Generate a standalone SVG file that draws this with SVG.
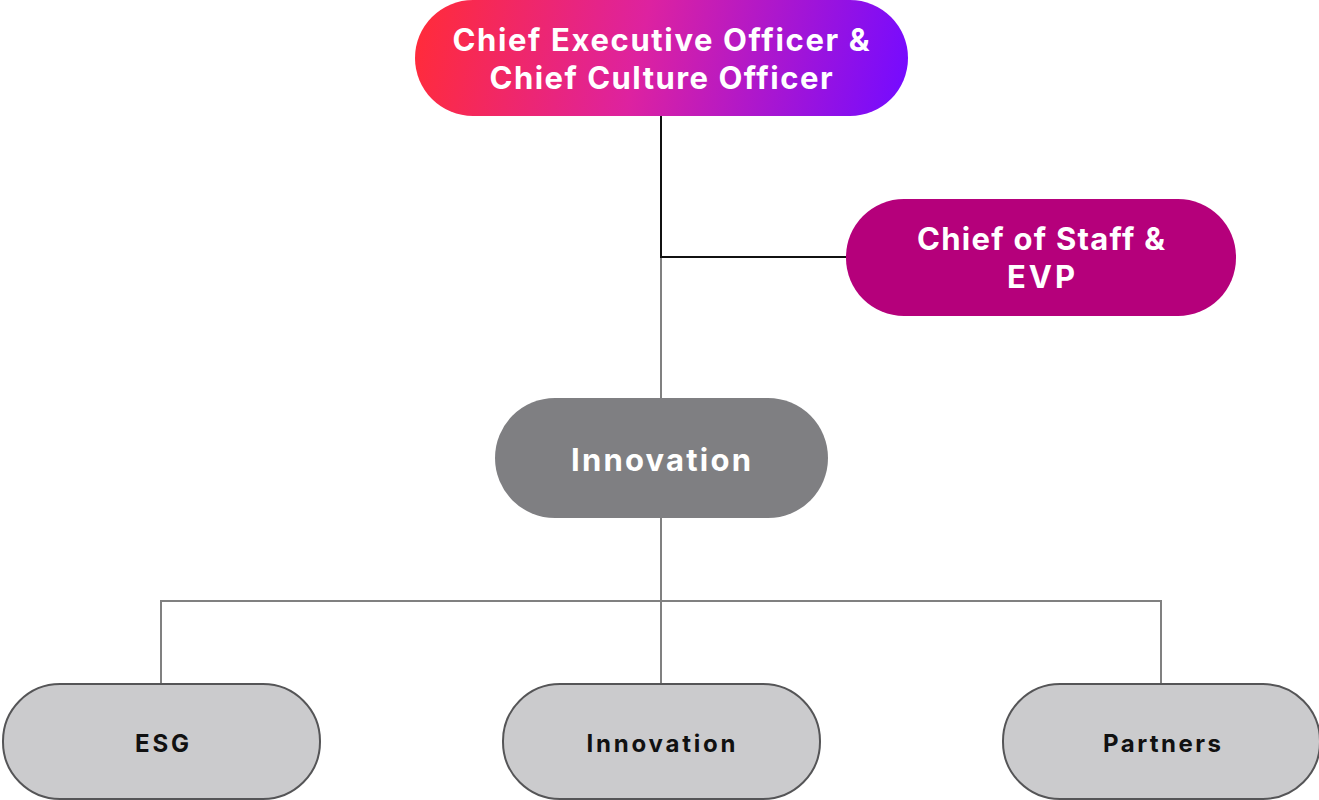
<svg xmlns="http://www.w3.org/2000/svg" width="1319" height="800" viewBox="0 0 1319 800">
<style>
text{font-family:Inter,"Open Sans","Liberation Sans",sans-serif;font-weight:700;text-anchor:middle;dominant-baseline:central}
.w{fill:#ffffff;font-size:31px}
.b{fill:#111111;font-size:24px}
.leaf{fill:#cbcbcd;stroke:#555557;stroke-width:2}
.gl{stroke:#808080;stroke-width:2;fill:none}
.bl{stroke:#111111;stroke-width:2;fill:none}
</style>
<defs>
<linearGradient id="g" x1="425" y1="10" x2="900" y2="110" gradientUnits="userSpaceOnUse">
<stop offset="0" stop-color="#ff2b3c"/>
<stop offset="0.45" stop-color="#dd22a0"/>
<stop offset="1" stop-color="#760bff"/>
</linearGradient>
</defs>
<rect width="1319" height="800" fill="#ffffff"/>
<g id="connectors">
<path class="gl" d="M661 257V398"/>
<path class="bl" d="M661 116V257H846"/>
<path class="gl" d="M661 518V684M161 684V601H1161V684"/>
</g>
<g id="ceo">
<rect x="415" y="0" width="493" height="116" rx="58" fill="url(#g)"/>
<text class="w" x="661" y="39" textLength="417" lengthAdjust="spacing">Chief Executive Officer &amp;</text>
<text class="w" x="661" y="77" textLength="343" lengthAdjust="spacing">Chief Culture Officer</text>
</g>
<g id="cos">
<rect x="846" y="199" width="390" height="117" rx="58" fill="#b5007b"/>
<text class="w" x="1041" y="238" textLength="248" lengthAdjust="spacing">Chief of Staff &amp;</text>
<text class="w" x="1041" y="276" textLength="68" lengthAdjust="spacing">EVP</text>
</g>
<g id="innovation-main">
<rect x="495" y="398" width="333" height="120" rx="60" fill="#7f7f82"/>
<text class="w" x="661" y="459" textLength="180" lengthAdjust="spacing">Innovation</text>
</g>
<g id="esg">
<rect class="leaf" x="3" y="684" width="317" height="115" rx="57"/>
<text class="b" x="162" y="743" textLength="54" lengthAdjust="spacing">ESG</text>
</g>
<g id="innovation">
<rect class="leaf" x="503" y="684" width="317" height="115" rx="57"/>
<text class="b" x="661" y="743" textLength="149" lengthAdjust="spacing">Innovation</text>
</g>
<g id="partners">
<rect class="leaf" x="1003" y="684" width="317" height="115" rx="57"/>
<text class="b" x="1162" y="743" textLength="118" lengthAdjust="spacing">Partners</text>
</g>
</svg>
